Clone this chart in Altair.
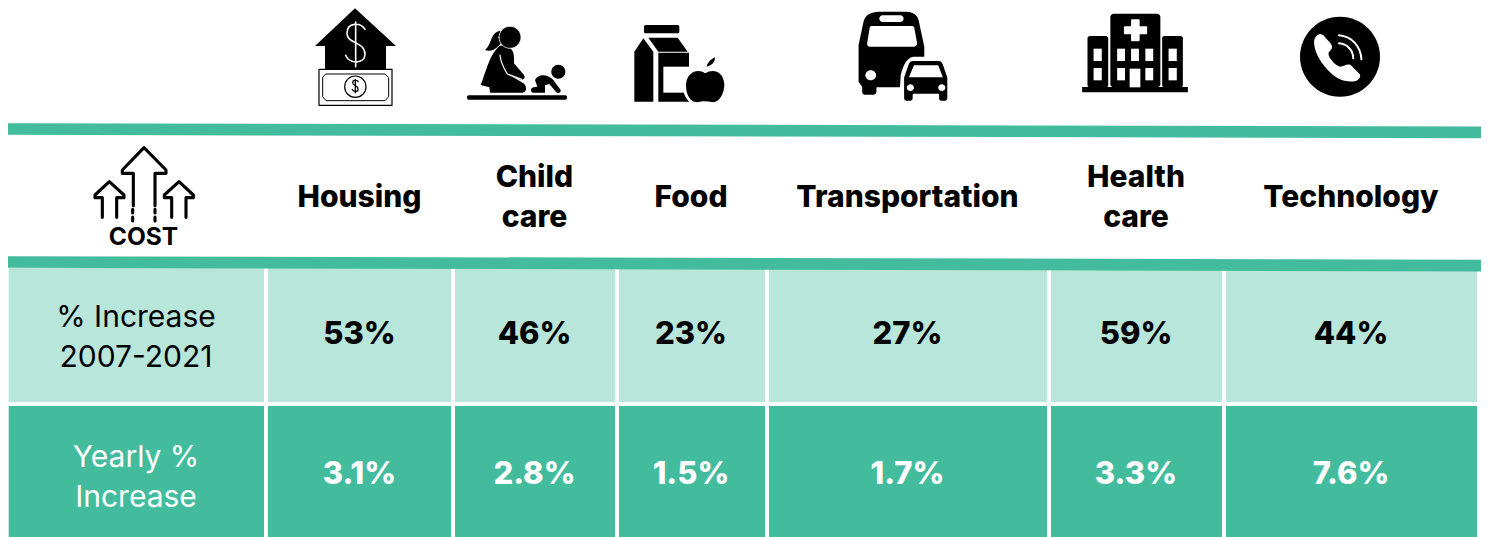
import re
import altair as alt
import pandas as pd

# ---- table content
categories = ["Housing", "Child\ncare", "Food", "Transportation", "Health\ncare", "Technology"]
total_increase = ["53%", "46%", "23%", "27%", "59%", "44%"]
yearly_increase = ["3.1%", "2.8%", "1.5%", "1.7%", "3.3%", "7.6%"]
row_labels = ["% Increase\n2007-2021", "Yearly %\nIncrease"]

# ---- layout
col_left = [8.7, 268, 455, 619, 769, 1051, 1226]
col_right = [264, 451, 615, 765, 1047, 1222, 1477]
col_centers = [359.5, 534.5, 691, 907.5, 1136, 1351]
row_top = [268, 406]
row_bottom = [402, 537]
row_mid = [335, 475]
row_label_y = [318, 458]
LINE = 40
header_y = 198
band_left_x, band_right_x = 6, 1485
band_ys = [(129, 132.3), (262, 265.6)]
DARK = "#43BC9D"
LIGHT = "#B8E6DA"
FONT = "Inter"

X = alt.Scale(domain=[8, 1481])
Y = alt.Scale(domain=[537, 8])
x_ = lambda f: alt.X(f, type="quantitative", scale=X, axis=None)
y_ = lambda f: alt.Y(f, type="quantitative", scale=Y, axis=None)

# ---- cells
cell_rows = []
for r, fill in enumerate([LIGHT, DARK]):
    for l, rt in zip(col_left, col_right):
        cell_rows.append(dict(x=l, x2=rt, y=row_top[r], y2=row_bottom[r], fill=fill))
cells = alt.Chart(pd.DataFrame(cell_rows)).mark_rect().encode(
    x=x_("x"), x2="x2:Q", y=y_("y"), y2="y2:Q", fill=alt.Fill("fill:N", scale=None)
)

# ---- green bands
band_layers = []
for yl, yr in band_ys:
    d = pd.DataFrame({"x": [band_left_x, band_right_x], "y": [yl, yr]})
    band_layers.append(
        alt.Chart(d).mark_line(color=DARK, strokeWidth=11.7, strokeCap="butt", clip=False).encode(x=x_("x"), y=y_("y"))
    )

# ---- text
header_df = pd.DataFrame({
    "x": col_centers,
    "y": [header_y - (LINE / 2 if "\n" in c else 0) for c in categories],
    "t": categories,
})
headers = alt.Chart(header_df).mark_text(
    font=FONT, fontSize=30, fontWeight=800, color="black", lineBreak="\n", lineHeight=LINE, baseline="middle"
).encode(x=x_("x"), y=y_("y"), text="t:N")

val_rows = [dict(x=c, y=row_mid[0], t=t, c="black") for c, t in zip(col_centers, total_increase)]
val_rows += [dict(x=c, y=row_mid[1], t=t, c="white") for c, t in zip(col_centers, yearly_increase)]
values = alt.Chart(pd.DataFrame(val_rows)).mark_text(
    font=FONT, fontSize=31, fontWeight=800, baseline="middle"
).encode(x=x_("x"), y=y_("y"), text="t:N", color=alt.Color("c:N", scale=None))

lab_df = pd.DataFrame({"x": [136, 136], "y": row_label_y, "t": row_labels, "c": ["black", "white"]})
labels = alt.Chart(lab_df).mark_text(
    font=FONT, fontSize=30, fontWeight=400, lineBreak="\n", lineHeight=LINE, baseline="middle"
).encode(x=x_("x"), y=y_("y"), text="t:N", color=alt.Color("c:N", scale=None))

cost_df = pd.DataFrame({"x": [143.5], "y": [237.5], "t": ["COST"]})
cost = alt.Chart(cost_df).mark_text(
    font=FONT, fontSize=24.5, fontWeight=700, color="black", baseline="middle"
).encode(x=x_("x"), y=y_("y"), text="t:N")


# ---- icons: outlines written in crop space, converted to pixels around an anchor
def conv(path, ox, oy, ax, ay, fx):
    parts = re.findall(r"[A-Za-z]|-?\d+\.?\d*", path)
    out, i = [], 0
    for p in parts:
        if p.isalpha():
            out.append(p)
        else:
            v = float(p) / fx + ox - ax if i % 2 == 0 else float(p) / 3 + oy - ay
            out.append(f"{v:.2f}")
            i += 1
    return " ".join(out)


def circ(cx, cy, r, ry=None):
    ry = r if ry is None else ry
    k = 0.5523
    return (
        f"M {cx-r} {cy} C {cx-r} {cy-k*ry} {cx-k*r} {cy-ry} {cx} {cy-ry} "
        f"C {cx+k*r} {cy-ry} {cx+r} {cy-k*ry} {cx+r} {cy} "
        f"C {cx+r} {cy+k*ry} {cx+k*r} {cy+ry} {cx} {cy+ry} "
        f"C {cx-k*r} {cy+ry} {cx-r} {cy+k*ry} {cx-r} {cy} Z"
    )


def rect(x0, y0, x1, y1):
    return f"M {x0} {y0} L {x1} {y0} L {x1} {y1} L {x0} {y1} Z"


def rrect(x0, y0, x1, y1, r):
    return (
        f"M {x0+r} {y0} L {x1-r} {y0} C {x1-r/2} {y0} {x1} {y0+r/2} {x1} {y0+r} "
        f"L {x1} {y1-r} C {x1} {y1-r/2} {x1-r/2} {y1} {x1-r} {y1} "
        f"L {x0+r} {y1} C {x0+r/2} {y1} {x0} {y1-r/2} {x0} {y1-r} "
        f"L {x0} {y0+r} C {x0} {y0+r/2} {x0+r/2} {y0} {x0+r} {y0} Z"
    )


def dollar(cx, cy, s):
    return (
        f"M {cx+28*s} {cy-50*s} C {cx+15*s} {cy-72*s} {cx-26*s} {cy-72*s} {cx-26*s} {cy-38*s} "
        f"C {cx-26*s} {cy-5*s} {cx+28*s} {cy-15*s} {cx+28*s} {cy+25*s} "
        f"C {cx+28*s} {cy+55*s} {cx-20*s} {cy+55*s} {cx-30*s} {cy+28*s} "
        f"M {cx} {cy-72*s} L {cx} {cy+62*s}"
    )


icon_parts = []


def add(path, ox, oy, ax, ay, fx=3, fill="black", stroke="transparent", sw=0):
    icon_parts.append(dict(x=ax, y=ay, shape=conv(path, ox, oy, ax, ay, fx), fill=fill, stroke=stroke, sw=sw))


# house & banknote
a = (290, 0, 355, 55, 3)
add("M 195 25 L 318 138 L 288 138 L 288 207 L 105 207 L 105 138 L 75 138 Z", *a)
add(dollar(197, 138, 1), *a, fill="transparent", stroke="white", sw=1.6)
add(rect(87, 208, 306, 316), *a, fill="white", stroke="black", sw=1.2)
add("M 108 222 L 285 222 L 296 233 L 296 290 L 285 302 L 108 302 L 98 290 L 98 233 Z", *a, fill="white", stroke="black", sw=1)
add(circ(196, 260, 32), *a, fill="white", stroke="black", sw=1.2)
add(dollar(196, 260, 0.3), *a, fill="transparent", stroke="black", sw=1.3)

# carer and baby
a = (290, 0, 516, 65, 3)
add("M 630 92 C 600 98 608 130 585 150 C 608 160 630 138 642 115 Z", *a)
add("M 628 138 C 655 128 672 150 672 172 L 672 190 L 702 225 C 708 236 698 243 688 238 L 660 226 "
    "L 700 250 C 712 258 710 278 698 278 L 600 278 L 598 262 L 572 255 C 590 210 598 165 628 138 Z", *a)
add(circ(660, 112, 33), *a, stroke="white", sw=0.8)
add("M 630 165 C 632 190 642 205 652 222 L 695 238", *a, fill="transparent", stroke="white", sw=1.2)
add(circ(805, 215, 21), *a)
add("M 735 240 C 742 222 772 220 790 240 L 812 270 C 814 278 804 282 798 276 L 778 252 L 765 256 "
    "L 765 278 L 728 278 C 720 275 722 264 730 262 L 742 260 Z", *a)
add(rrect(531, 286, 831, 299, 5), *a)

# carton & apple
a = (290, 0, 679, 65, 3)
add(rrect(1062, 75, 1168, 100, 5), *a)
add("M 1060 115 L 1033 155 L 1033 305 L 1090 305 L 1090 155 Z", *a)
add("M 1075 113 L 1163 113 L 1193 155 L 1105 155 Z", *a)
add(rect(1105, 158, 1197, 305), *a)
add(rect(1120, 200, 1200, 278), *a, fill="white")
add(circ(1245, 262, 66, 62), *a, fill="white")
add("M 1245 220 C 1225 205 1190 215 1188 255 C 1188 290 1205 310 1225 306 C 1235 303 1252 303 1265 306 "
    "C 1285 310 1303 285 1303 252 C 1300 212 1268 205 1245 220 Z", *a)
add("M 1250 200 C 1252 188 1262 178 1275 172 C 1276 185 1266 197 1250 200 Z", *a)

# bus & car
a = (840, 0, 904, 57, 2.8)
add("M 110 35 L 185 35 C 210 35 220 50 222 70 L 236 140 L 236 170 L 205 170 C 185 175 178 195 170 225 "
    "L 168 262 L 102 262 L 102 275 C 102 282 98 284 92 284 L 70 284 C 65 284 62 280 62 275 L 62 260 "
    "L 52 245 L 52 135 L 65 70 C 68 50 80 35 110 35 Z", *a)
add("M 88 78 L 202 78 C 206 78 207 80 208 84 L 216 130 C 216 136 212 140 208 140 L 82 140 "
    "C 78 140 75 135 76 130 L 83 84 C 84 80 85 78 88 78 Z", *a, fill="white")
add(rrect(110, 46, 178, 66, 9), *a, fill="white")
add(circ(86, 226, 15), *a, fill="white")
add("M 205 180 L 275 180 C 285 180 288 185 290 192 L 303 232 L 303 295 C 303 302 300 305 295 305 L 282 305 "
    "C 278 305 275 302 275 295 L 275 284 L 206 284 L 206 295 C 206 302 203 305 198 305 L 185 305 "
    "C 180 305 177 302 177 295 L 177 232 L 190 192 C 192 185 195 180 205 180 Z", *a, stroke="white", sw=1.8)
add("M 207 196 L 275 196 L 288 232 L 193 232 Z", *a, fill="white")
add(circ(197, 263, 10), *a, fill="white")
add(circ(285, 263, 10), *a, fill="white")

# hospital
a = (840, 0, 1135, 53, 2.8)
add(rect(678, 261, 974, 277), *a)
add(rrect(757, 41, 897, 262, 9), *a)
add(rrect(693, 108, 751, 262, 6), *a)
add(rrect(902, 108, 960, 262, 6), *a)
for wx0, wx1 in [(710, 733), (776, 798), (815, 837), (855, 877), (920, 943)]:
    add(rect(wx0, 146, wx1, 183), *a, fill="white")
    if wx0 != 815:
        add(rect(wx0, 204, wx1, 241), *a, fill="white")
add(rect(811, 206, 841, 262), *a, fill="white")
add(rrect(795, 79, 860, 103, 3), *a, fill="white")
add(rrect(815, 58, 839, 124, 3), *a, fill="white")

# phone
a = (840, 0, 1340, 57, 2.8)
add(circ(1400, 170, 112, 120), *a)
add("M 1345 102 C 1335 102 1325 115 1328 135 C 1330 160 1350 195 1375 220 C 1400 245 1425 247 1445 243 "
    "C 1452 240 1460 230 1455 222 L 1430 195 C 1420 190 1412 200 1400 200 C 1385 195 1365 170 1368 158 "
    "C 1375 148 1382 145 1375 132 L 1353 105 Z", *a, fill="white")
add("M 1397 106 C 1435 110 1458 140 1460 178", *a, fill="transparent", stroke="white", sw=2)
add("M 1397 130 C 1420 132 1437 150 1437 175", *a, fill="transparent", stroke="white", sw=2)

# rising-cost arrows
a = (0, 115, 143, 195, 3)
for d in [
    "M 400 272 L 400 175 L 367 175 L 367 165 L 432 98 L 498 165 L 498 175 L 465 175 L 465 272",
    "M 398 283 L 398 294 M 398 306 L 398 318 M 465 283 L 465 294 M 465 306 L 465 318",
    "M 307 307 L 307 248 L 285 248 L 285 240 L 328 200 L 372 240 L 372 248 L 350 248 L 350 307",
    "M 515 307 L 515 248 L 493 248 L 493 240 L 537 200 L 580 240 L 580 248 L 558 248 L 558 307",
]:
    add(d, *a, fill="transparent", stroke="black", sw=3.1)

icons = alt.Chart(pd.DataFrame(icon_parts)).mark_point(
    size=4, filled=True, opacity=1, strokeJoin="round", strokeCap="round"
).encode(
    x=x_("x"),
    y=y_("y"),
    shape=alt.Shape("shape:N", scale=None),
    fill=alt.Fill("fill:N", scale=None),
    stroke=alt.Stroke("stroke:N", scale=None),
    strokeWidth=alt.StrokeWidth("sw:Q", scale=None),
)

chart = (
    alt.layer(cells, *band_layers, icons, cost, headers, values, labels)
    .properties(width=1473, height=529, padding=0, autosize=alt.AutoSizeParams(type="none"), background="white")
    .configure_view(stroke=None)
)
chart.save("out.html", embed_options={"renderer": "svg", "actions": False})
